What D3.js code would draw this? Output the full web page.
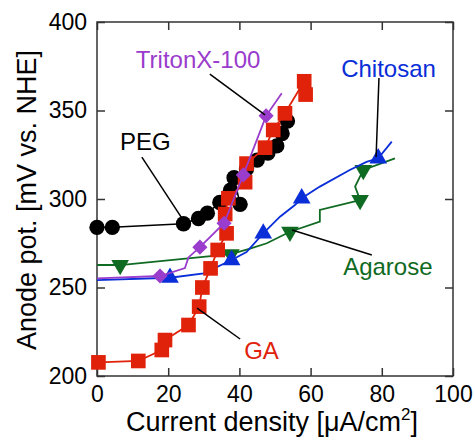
<!DOCTYPE html>
<html>
<head>
<meta charset="utf-8">
<script src="https://cdn.jsdelivr.net/npm/d3@7"></script>
<style>
  body { margin: 0; background: #fff; }
  text { font-family: "Liberation Sans", Arial, sans-serif; }
</style>
</head>
<body>
<div id="chart"></div>
<script>
// axis ticks
const xTicks = [0, 20, 40, 60, 80, 100];
const yTicks = [200, 250, 300, 350, 400];

// PEG (black circles)
const pegX = [0, 4.3, 24.3, 28.5, 31, 34.5, 37.5, 40.2, 38.5, 42, 45, 48, 50.5, 52, 53.5];
const pegY = [284, 284, 286, 289, 292, 298, 305, 297, 312, 317, 322, 326, 330, 337, 344];

// GA (red squares)
const gaX = [0.4, 11.6, 18.2, 19.1, 25.7, 28.7, 29.6, 31.9, 33.9, 36.4, 36, 36.9, 41.6, 42, 47.2, 49.5, 52.8, 58.2, 58.6];
const gaY = [207.7, 208.5, 214.7, 220.3, 228.8, 239.2, 250, 260.8, 271.2, 280.6, 291.5, 300.4, 309.5, 320, 329, 339, 348.4, 366.5, 359];

// TritonX-100 (purple diamonds), mark = 1 where a marker is drawn
const tritonX = [0, 17.7, 24.7, 25.7, 28.9, 35.7, 41.1, 47.5, 51.9];
const tritonY = [255.2, 256.5, 261, 267, 272.8, 286.3, 313.6, 347, 359.7];
const tritonMark = [0, 1, 0, 0, 1, 1, 1, 1, 0];

// Chitosan (blue up triangles)
const chitoX = [0, 20.5, 30, 37.8, 42, 46.7, 51.4, 55.6, 57.5, 62.6, 71, 75.7, 79, 82.8];
const chitoY = [254.2, 255.5, 258, 265.5, 270, 280.6, 290, 296.6, 300.4, 307, 316.4, 321, 323, 332.4];
const chitoMark = [0, 1, 0, 1, 0, 1, 0, 0, 1, 0, 0, 0, 1, 0];

// Agarose (green down triangles)
const agaX = [0, 6.5, 37.6, 43, 47.7, 54.2, 62.6, 62.6, 73.9, 72.5, 74.8, 83.7];
const agaY = [262.7, 262.7, 268.8, 272, 275, 281.5, 287.2, 293.8, 299.4, 307, 316.4, 323];
const agaMark = [0, 1, 1, 0, 0, 1, 0, 0, 1, 0, 1, 0];

// annotation texts
const labelNames = ["TritonX-100", "PEG", "Chitosan", "Agarose", "GA"];

const width = 475, height = 441;
const margin = {top: 22, right: 22, bottom: 65, left: 97};

const svg = d3.select("#chart").append("svg")
    .attr("width", width)
    .attr("height", height);

const x = d3.scaleLinear().domain([0, 100]).range([margin.left, width - margin.right]);
const y = d3.scaleLinear().domain([200, 400]).range([height - margin.bottom, margin.top]);

const axisColor = "#333";

// frame + inward ticks on all four sides
function styleAxis(g) {
    g.select(".domain").remove();
    g.selectAll(".tick line").attr("stroke", axisColor).attr("stroke-width", 1.5);
}

svg.append("g")
    .attr("transform", `translate(0,${y(200)})`)
    .call(d3.axisBottom(x).tickValues(xTicks).tickSizeInner(-8).tickSizeOuter(0).tickPadding(10))
    .call(styleAxis)
    .call(g => g.selectAll(".tick text").attr("font-size", 23).attr("fill", "#000")
        .attr("font-family", "Liberation Sans, Arial, sans-serif"));

svg.append("g")
    .attr("transform", `translate(0,${y(400)})`)
    .call(d3.axisTop(x).tickValues(xTicks).tickSizeInner(-8).tickSizeOuter(0).tickFormat(""))
    .call(styleAxis);

svg.append("g")
    .attr("transform", `translate(${x(0)},0)`)
    .call(d3.axisLeft(y).tickValues(yTicks).tickSizeInner(-8).tickSizeOuter(0).tickPadding(10))
    .call(styleAxis)
    .call(g => g.selectAll(".tick text").attr("font-size", 23).attr("fill", "#000")
        .attr("font-family", "Liberation Sans, Arial, sans-serif"));

svg.append("g")
    .attr("transform", `translate(${x(100)},0)`)
    .call(d3.axisRight(y).tickValues(yTicks).tickSizeInner(-8).tickSizeOuter(0).tickFormat(""))
    .call(styleAxis);

svg.append("rect")
    .attr("x", x(0)).attr("y", y(400))
    .attr("width", x(100) - x(0)).attr("height", y(200) - y(400))
    .attr("fill", "none").attr("stroke", axisColor).attr("stroke-width", 1.5);

// axis titles
svg.append("text")
    .attr("x", (x(0) + x(100)) / 2 - 3)
    .attr("y", 431)
    .attr("text-anchor", "middle")
    .attr("font-size", 27)
    .text("Current density [μA/cm")
    .append("tspan").attr("dy", -11).attr("font-size", 17).text("2")
    .select(function() { return this.parentNode; })
    .append("tspan").attr("dy", 11).text("]");

svg.append("text")
    .attr("transform", `translate(36,${(y(200) + y(400)) / 2 + 1}) rotate(-90)`)
    .attr("text-anchor", "middle")
    .attr("font-size", 27)
    .text("Anode pot. [mV vs. NHE]");

const line = d3.line().x(d => x(d.x)).y(d => y(d.y));

function zip(xs, ys, ms) {
    return xs.map((v, i) => ({x: v, y: ys[i], m: ms ? ms[i] : 1}));
}

function drawSeries(data, color, lw, symbol, size, rot) {
    svg.append("path")
        .datum(data)
        .attr("d", line)
        .attr("fill", "none")
        .attr("stroke", color)
        .attr("stroke-width", lw);
    svg.selectAll(null)
        .data(data.filter(d => d.m))
        .enter()
        .append("path")
        .attr("d", d3.symbol().type(symbol).size(size))
        .attr("transform", d => `translate(${x(d.x)},${y(d.y)}) rotate(${rot})`)
        .attr("fill", color);
}

const black = "#000000", red = "#e0220a", purple = "#9a3ccc", blue = "#0a2ed8", green = "#0f6a22";

drawSeries(zip(pegX, pegY), black, 1.5, d3.symbolCircle, 185, 0);
drawSeries(zip(agaX, agaY, agaMark), green, 1.8, d3.symbolTriangle, 135, 180);
drawSeries(zip(chitoX, chitoY, chitoMark), blue, 1.8, d3.symbolTriangle, 135, 0);
drawSeries(zip(gaX, gaY), red, 1.8, d3.symbolSquare, 215, 0);
drawSeries(zip(tritonX, tritonY, tritonMark), purple, 1.8, d3.symbolSquare, 115, 45);

// annotations: text anchor point and leader line, in data units
const notes = [
    {tx: 28.4, ty: 374, x1: 31.7, y1: 370.6, x2: 47.2, y2: 347.5, color: purple},
    {tx: 13.6, ty: 327.7, x1: 12.6, y1: 323.7, x2: 24.2, y2: 288.1, color: black},
    {tx: 81.9, ty: 368.9, x1: 79.2, y1: 368.4, x2: 78.4, y2: 323.7, color: blue},
    {tx: 81.7, ty: 257, x1: 77.2, y1: 268.4, x2: 54.8, y2: 282.5, color: green},
    {tx: 46.2, ty: 209.6, x1: 40.2, y1: 220.9, x2: 28.1, y2: 238.4, color: red}
];

notes.forEach((n, i) => {
    svg.append("line")
        .attr("x1", x(n.x1)).attr("y1", y(n.y1))
        .attr("x2", x(n.x2)).attr("y2", y(n.y2))
        .attr("stroke", "#000").attr("stroke-width", 1.5);
    svg.append("text")
        .attr("x", x(n.tx)).attr("y", y(n.ty))
        .attr("text-anchor", "middle")
        .attr("font-size", 24)
        .attr("fill", n.color)
        .text(labelNames[i]);
});
</script>
</body>
</html>
